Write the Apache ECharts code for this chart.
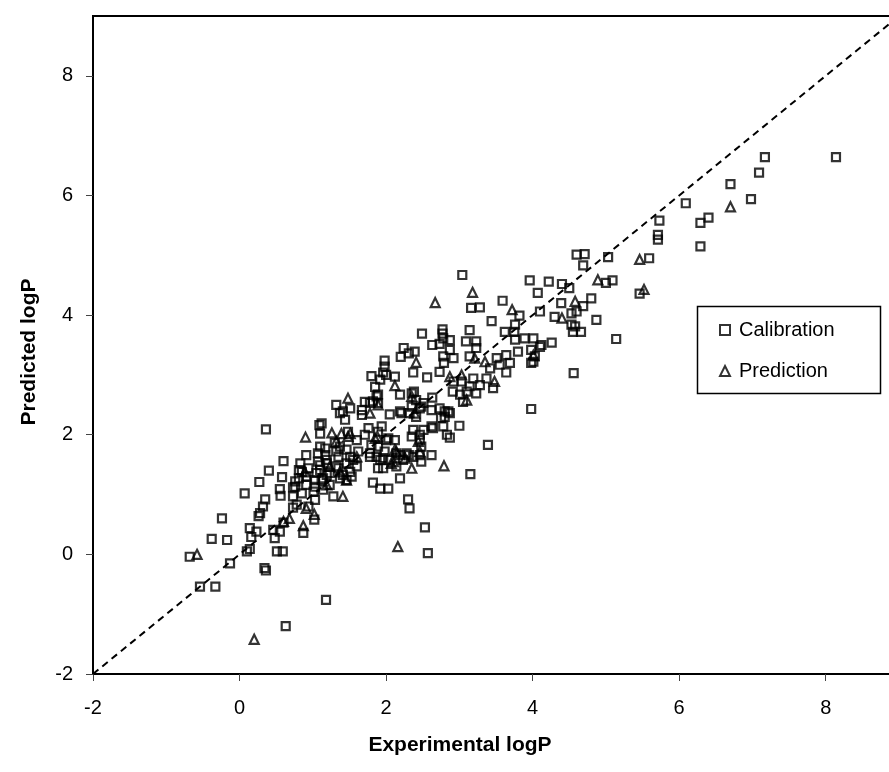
<!DOCTYPE html>
<html>
<head>
<meta charset="utf-8">
<script src="https://cdn.jsdelivr.net/npm/echarts@6/dist/echarts.min.js"></script>
<style>
  html, body { margin: 0; padding: 0; background: #fff; }
  #chart { width: 889px; height: 772px; }
</style>
</head>
<body>
<div id="chart"></div>
<script>
// calibration set, [experimental, predicted]
const calibration = [
  [-0.68,-0.04],[-0.54,-0.54],[-0.33,-0.54],[-0.38,0.26],[-0.17,0.24],[-0.24,0.60],[-0.13,-0.15],[0.07,1.02],
  [0.10,0.05],[0.14,0.09],[0.14,0.44],[0.23,0.38],[0.16,0.29],[0.27,1.21],[0.28,0.69],[0.26,0.64],
  [0.32,0.80],[0.35,0.92],[0.34,-0.23],[0.36,-0.27],[0.36,2.09],[0.40,1.40],[0.46,0.41],[0.48,0.27],
  [0.51,0.05],[0.59,0.05],[0.55,1.09],[0.56,0.98],[0.58,1.29],[0.60,1.56],[0.60,0.53],[0.55,0.38],
  [0.63,-1.20],[1.18,-0.76],[0.73,1.12],[0.73,0.97],[0.73,0.78],[0.78,0.83],[0.87,0.36],[1.02,0.58],
  [0.81,1.41],[0.81,1.27],[0.83,1.52],[0.85,1.38],[0.85,1.02],[0.91,1.66],[0.91,1.30],[0.91,1.16],
  [0.94,0.80],[0.76,1.13],[0.76,1.22],[0.94,1.44],[1.01,1.05],[1.03,1.24],[1.03,1.13],[1.03,0.91],
  [1.05,1.36],[1.07,1.55],[1.07,1.69],[1.09,2.16],[1.10,2.02],[1.10,1.41],[1.10,1.80],[1.10,1.49],
  [1.12,1.24],[1.12,2.19],[1.14,1.27],[1.14,1.08],[1.17,1.66],[1.17,1.77],[1.19,1.52],[1.19,1.33],
  [1.19,1.58],[1.23,1.36],[1.23,1.16],[1.28,0.97],[1.30,1.86],[1.32,1.72],[1.32,1.47],[1.32,2.50],
  [1.35,1.44],[1.35,1.63],[1.37,1.80],[1.37,1.27],[1.37,2.36],[1.41,2.39],[1.41,1.33],[1.44,2.25],
  [1.46,1.75],[1.46,1.52],[1.46,1.24],[1.48,2.05],[1.51,2.44],[1.51,1.63],[1.51,1.38],[1.53,1.30],
  [1.55,1.58],[1.60,1.47],[1.60,1.91],[1.62,1.72],[1.67,2.41],[1.67,2.33],[1.71,2.00],[1.71,2.55],
  [1.76,2.11],[1.78,1.69],[1.78,1.63],[1.78,2.53],[1.80,2.98],[1.80,1.83],[1.82,2.56],[1.82,1.20],
  [1.85,2.80],[1.87,1.63],[1.87,2.64],[1.89,2.53],[1.89,2.67],[1.89,2.05],[1.89,1.80],[1.89,1.44],
  [1.92,2.92],[1.92,1.58],[1.92,1.10],[1.94,2.14],[1.96,3.04],[1.96,1.61],[1.96,1.44],[1.98,3.24],
  [1.98,3.14],[1.98,1.72],[2.00,3.00],[2.00,1.91],[2.03,1.94],[2.03,1.10],[2.05,2.34],[2.05,1.58],
  [2.12,2.97],[2.12,1.91],[2.14,1.47],[2.14,1.69],[2.19,2.67],[2.19,2.39],[2.19,1.66],[2.19,1.27],
  [2.20,3.30],[2.21,2.36],[2.23,1.58],[2.24,3.45],[2.28,1.69],[2.30,0.92],[2.31,3.36],[2.31,1.66],
  [2.32,2.36],[2.32,0.77],[2.35,2.69],[2.35,2.47],[2.35,1.97],[2.37,3.04],[2.37,2.08],[2.37,1.63],
  [2.38,2.72],[2.39,3.39],[2.41,2.30],[2.41,2.58],[2.46,2.44],[2.46,2.00],[2.46,1.91],[2.46,1.66],
  [2.48,2.47],[2.48,1.80],[2.48,1.55],[2.49,3.69],[2.51,2.53],[2.51,2.08],[2.53,0.45],[2.56,2.96],
  [2.57,0.02],[2.62,2.41],[2.62,2.14],[2.62,1.66],[2.63,3.50],[2.63,2.62],[2.64,2.11],[2.73,3.52],
  [2.73,3.05],[2.73,2.44],[2.75,2.28],[2.77,3.76],[2.77,3.69],[2.78,3.61],[2.78,3.31],[2.78,2.14],
  [2.79,3.20],[2.80,2.39],[2.80,2.30],[2.83,2.00],[2.85,2.39],[2.87,3.58],[2.87,3.42],[2.87,2.36],
  [2.87,1.95],[2.91,2.72],[2.92,3.28],[2.92,2.89],[3.00,2.15],[3.01,2.67],[3.03,2.89],[3.04,4.67],
  [3.05,2.55],[3.09,3.56],[3.10,2.72],[3.14,3.75],[3.14,3.31],[3.14,2.81],[3.15,1.34],[3.16,4.12],
  [3.19,2.94],[3.23,3.56],[3.23,3.45],[3.23,2.69],[3.28,4.13],[3.28,2.83],[3.37,2.94],[3.39,1.83],
  [3.42,3.11],[3.44,3.90],[3.46,2.78],[3.51,3.28],[3.55,3.17],[3.59,4.24],[3.62,3.72],[3.64,3.33],
  [3.64,3.04],[3.69,3.20],[3.75,3.72],[3.76,3.84],[3.76,3.59],[3.80,3.39],[3.82,3.99],[3.89,3.61],
  [3.96,4.58],[3.98,3.42],[3.98,3.20],[3.98,2.43],[4.01,3.61],[4.01,3.22],[4.03,3.31],[4.07,4.37],
  [4.10,4.06],[4.10,3.47],[4.12,3.50],[4.22,4.56],[4.26,3.54],[4.30,3.97],[4.39,4.20],[4.40,4.52],
  [4.50,4.45],[4.53,4.03],[4.53,3.84],[4.55,3.72],[4.56,3.03],[4.58,3.81],[4.60,5.01],[4.60,4.06],
  [4.66,3.72],[4.69,4.15],[4.69,4.83],[4.71,5.02],[4.80,4.28],[4.87,3.92],[5.00,4.54],[5.03,4.97],
  [5.09,4.58],[5.14,3.60],[5.46,4.36],[5.59,4.95],[5.71,5.34],[5.71,5.26],[5.73,5.58],[6.09,5.87],
  [6.29,5.54],[6.29,5.15],[6.40,5.63],[6.70,6.19],[6.98,5.94],[7.09,6.38],[7.17,6.64],[8.14,6.64]
]

// prediction set, [experimental, predicted]
const prediction = [
  [-0.58,0.00],[0.20,-1.42],[0.60,0.55],[0.68,0.60],[0.87,0.48],[0.89,1.38],[0.90,1.96],[0.91,0.77],
  [1.02,0.67],[1.19,1.16],[1.23,1.47],[1.26,2.03],[1.32,1.89],[1.37,1.38],[1.39,2.02],[1.41,0.97],
  [1.46,1.24],[1.48,2.61],[1.48,1.97],[1.51,2.02],[1.60,1.63],[1.78,2.36],[1.85,1.94],[1.88,1.97],
  [1.89,2.50],[2.07,1.52],[2.10,1.55],[2.12,2.82],[2.12,1.75],[2.14,1.72],[2.16,0.13],[2.26,1.61],
  [2.35,1.44],[2.35,2.64],[2.39,2.36],[2.41,3.21],[2.44,1.89],[2.46,1.72],[2.67,4.21],[2.79,1.48],
  [2.87,2.97],[3.03,3.00],[3.10,2.58],[3.18,4.38],[3.21,3.28],[3.35,3.22],[3.48,2.89],[3.72,4.09],
  [4.01,3.33],[4.40,3.95],[4.58,4.23],[4.89,4.59],[5.46,4.93],[5.52,4.43],[6.70,5.81]
]

// 1:1 reference line ends
const refLine = [[-2, -2], [9, 9]]

const xTicks = [-2, 0, 2, 4, 6, 8]
const yTicks = [-2, 0, 2, 4, 6, 8]

const font = '"Liberation Sans", Arial, sans-serif'

const chart = echarts.init(document.getElementById('chart'), null, { renderer: 'canvas' })

const pointStyle = {
  color: 'rgba(0,0,0,0)',
  borderColor: '#000',
  borderWidth: 2.2,
}

chart.setOption({
  backgroundColor: '#fff',
  animation: false,
  grid: {
    left: 93,
    top: 16,
    width: 806,
    height: 658,
    outerBoundsMode: 'none',
    containLabel: false,
    show: true,
    borderColor: '#000',
    borderWidth: 2,
    backgroundColor: 'transparent',
  },
  xAxis: {
    type: 'value',
    min: -2,
    max: 9,
    interval: 2,
    splitLine: { show: false },
    axisLine: { onZero: false, lineStyle: { color: '#000', width: 2 } },
    axisTick: { length: 7, customValues: xTicks, lineStyle: { color: '#444', width: 1 } },
    axisLabel: { customValues: xTicks, margin: 24, fontSize: 20, color: '#000', fontFamily: font },
  },
  yAxis: {
    type: 'value',
    min: -2,
    max: 9,
    interval: 2,
    splitLine: { show: false },
    axisLine: { onZero: false, lineStyle: { color: '#000', width: 2 } },
    axisTick: { length: 7, customValues: yTicks, lineStyle: { color: '#444', width: 1 } },
    axisLabel: { customValues: yTicks, margin: 20, fontSize: 20, color: '#000', fontFamily: font },
  },
  legend: {
    orient: 'vertical',
    left: 719,
    top: 319,
    padding: 0,
    itemWidth: 10,
    itemHeight: 10,
    itemGap: 19,
    textStyle: { fontSize: 20, color: '#000', fontFamily: font, lineHeight: 22, padding: [0, 0, 0, 4] },
    data: [
      { name: 'Calibration', icon: 'rect' },
      { name: 'Prediction', icon: 'triangle' },
    ],
  },
  graphic: [
    {
      type: 'rect',
      z: 3,
      shape: { x: 697.5, y: 306.5, width: 183, height: 87 },
      style: { fill: '#fff', stroke: '#000', lineWidth: 1.5 },
    },
    {
      type: 'text',
      x: 460,
      y: 745,
      style: {
        text: 'Experimental logP',
        font: 'bold 21px ' + font,
        fill: '#000',
        textAlign: 'center',
        textVerticalAlign: 'middle',
      },
    },
    {
      type: 'text',
      x: 29,
      y: 352,
      rotation: Math.PI / 2,
      style: {
        text: 'Predicted logP',
        font: 'bold 21px ' + font,
        fill: '#000',
        textAlign: 'center',
        textVerticalAlign: 'middle',
      },
    },
  ],
  series: [
    {
      name: 'ref',
      type: 'line',
      data: refLine,
      symbol: 'none',
      silent: true,
      z: 1,
      lineStyle: { color: '#000', width: 2, type: [7, 5] },
    },
    {
      name: 'Calibration',
      type: 'scatter',
      symbol: 'rect',
      symbolSize: 8,
      data: calibration,
      itemStyle: pointStyle,
      z: 2,
    },
    {
      name: 'Prediction',
      type: 'scatter',
      symbol: 'triangle',
      symbolSize: 9,
      data: prediction,
      itemStyle: pointStyle,
      z: 2,
    },
  ],
})
</script>
</body>
</html>
